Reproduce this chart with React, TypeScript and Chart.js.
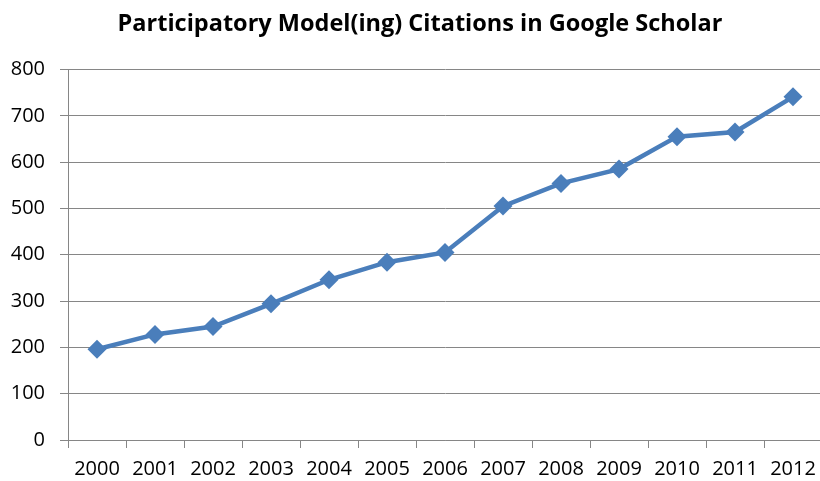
import React, { useEffect, useRef } from "react";
import { Chart, registerables } from "chart.js";

Chart.register(...registerables);

const years = ["2000", "2001", "2002", "2003", "2004", "2005", "2006", "2007", "2008", "2009", "2010", "2011", "2012"];
const citations = [196, 228, 245, 294, 346, 384, 405, 505, 554, 585, 655, 665, 741];
const yMin = 0;
const yMax = 800;
const yStep = 100;
const titleText = "Participatory Model(ing) Citations in Google Scholar";

const FONT = "'Open Sans', 'DejaVu Sans', sans-serif";
const LINE_BLUE = "#4a7ebb";
const AXIS_GRAY = "#868686";

const titlePlugin = {
  id: "centeredTitle",
  afterDraw(chart: any) {
    const ctx = chart.ctx;
    ctx.save();
    ctx.fillStyle = "#000";
    ctx.font = `bold 23.5px ${FONT}`;
    ctx.textAlign = "center";
    ctx.textBaseline = "middle";
    ctx.fillText(titleText, 420, 24.4);
    ctx.restore();
  },
};

export default function App() {
  const ref = useRef<HTMLCanvasElement>(null);

  useEffect(() => {
    if (!ref.current) return;
    const chart = new Chart(ref.current, {
      type: "line",
      data: {
        labels: years,
        datasets: [
          {
            data: citations,
            borderColor: LINE_BLUE,
            backgroundColor: LINE_BLUE,
            borderWidth: 4.5,
            pointStyle: "rectRot",
            pointRadius: 9.5,
            pointBackgroundColor: LINE_BLUE,
            pointBorderColor: LINE_BLUE,
            pointBorderWidth: 0,
            tension: 0,
            fill: false,
          },
        ],
      },
      plugins: [titlePlugin],
      options: {
        responsive: false,
        animation: false,
        devicePixelRatio: 1,
        layout: { padding: { left: 0, right: 18, top: 69.5, bottom: 0 } },
        plugins: {
          legend: { display: false },
          tooltip: { enabled: false },
          title: { display: false },
        },
        scales: {
          x: {
            offset: true,
            grid: {
              offset: true,
              drawOnChartArea: false,
              drawTicks: true,
              tickLength: 8,
              color: AXIS_GRAY,
              lineWidth: 1,
            },
            border: { display: true, color: AXIS_GRAY, width: 1 },
            ticks: {
              color: "#000",
              font: { family: FONT, size: 20 },
              padding: 9,
              maxRotation: 0,
              autoSkip: false,
            },
            afterFit: (s: any) => {
              s.height = 41;
            },
          },
          y: {
            min: yMin,
            max: yMax,
            ticks: {
              stepSize: yStep,
              color: "#000",
              font: { family: FONT, size: 20 },
              padding: 15,
            },
            grid: {
              color: AXIS_GRAY,
              lineWidth: 1,
              drawTicks: true,
              tickLength: 8,
            },
            border: { display: true, color: AXIS_GRAY, width: 1 },
            afterFit: (s: any) => {
              s.width = 68;
            },
          },
        },
      },
    });
    return () => chart.destroy();
  }, []);

  return (
    <div
      style={{
        position: "absolute",
        left: 0,
        top: 0,
        width: 820,
        height: 481,
        overflow: "hidden",
        background: "#fff",
      }}
    >
      <canvas ref={ref} width={840} height={481} style={{ display: "block" }} />
    </div>
  );
}
